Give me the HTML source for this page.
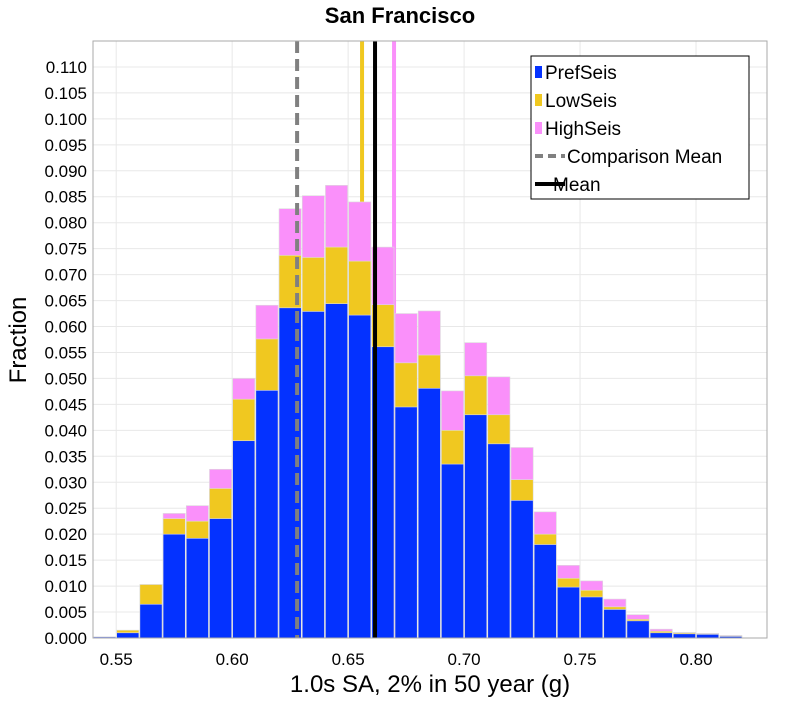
<!DOCTYPE html>
<html><head><meta charset="utf-8"><style>
body{margin:0;background:#fff;font-family:"Liberation Sans","DejaVu Sans",sans-serif}
</style></head><body>
<svg id="chart" width="800" height="700" xmlns="http://www.w3.org/2000/svg"></svg>
<script>
const binStarts=[0.54,0.55,0.56,0.57,0.58,0.59,0.60,0.61,0.62,0.63,0.64,0.65,0.66,0.67,0.68,0.69,0.70,0.71,0.72,0.73,0.74,0.75,0.76,0.77,0.78,0.79,0.80,0.81];
const prefSeis=[0.0002,0.001,0.0065,0.020,0.0192,0.023,0.038,0.0477,0.0636,0.0629,0.0644,0.0622,0.0561,0.0445,0.0481,0.0335,0.0430,0.0374,0.0265,0.0180,0.0098,0.0079,0.0055,0.0033,0.0010,0.0008,0.0007,0.0003];
const lowSeis=[0.0002,0.0015,0.0103,0.023,0.0225,0.0288,0.046,0.0576,0.0737,0.0733,0.0753,0.0726,0.0642,0.0530,0.0545,0.0400,0.0505,0.0430,0.0305,0.0200,0.0115,0.0092,0.0060,0.0036,0.0013,0.0010,0.0008,0.0004];
const highSeis=[0.0002,0.0015,0.0103,0.024,0.0255,0.0325,0.050,0.0641,0.0827,0.0852,0.0872,0.0840,0.0753,0.0625,0.0630,0.0476,0.0569,0.0503,0.0367,0.0243,0.0140,0.0110,0.0075,0.0045,0.0017,0.0011,0.0009,0.0005];
const binWidth=0.01;
const xTicks=[0.55,0.60,0.65,0.70,0.75,0.80];
const yTicks=[0,0.005,0.010,0.015,0.020,0.025,0.030,0.035,0.040,0.045,0.050,0.055,0.060,0.065,0.070,0.075,0.080,0.085,0.090,0.095,0.100,0.105,0.110];
const comparisonMean=0.628, mean=0.6616, lowMean=0.656, highMean=0.6698;

const L=93,R=767,T=41,B=638;
const xMin=0.54,xMax=0.8306,yMin=0,yMax=0.115;
const X=v=>L+(v-xMin)/(xMax-xMin)*(R-L);
const Y=v=>B-(v-yMin)/(yMax-yMin)*(B-T);
const svg=document.getElementById('chart');
const NS='http://www.w3.org/2000/svg';
function mk(tag,attrs,parent){const e=document.createElementNS(NS,tag);for(const k in attrs)e.setAttribute(k,attrs[k]);(parent||svg).appendChild(e);return e;}

let e=mk('rect',{x:L,y:T,width:R-L,height:B-T,fill:'#fff'});


yTicks.forEach(t=>{
 let g=mk('line',{x1:L,x2:R,y1:Y(t),y2:Y(t),stroke:'#e8e8e8','stroke-width':1});
 
 
 let tx=mk('text',{x:L-6,y:Y(t)+6,'text-anchor':'end','font-size':17,fill:'#000'});
 tx.textContent=t.toFixed(3);
 
 
});
xTicks.forEach(t=>{
 let g=mk('line',{x1:X(t),x2:X(t),y1:T,y2:B,stroke:'#e8e8e8','stroke-width':1});
 
 
 let tx=mk('text',{x:X(t),y:B+27,'text-anchor':'middle','font-size':17,fill:'#000'});
 tx.textContent=t.toFixed(2);
 
 
});
// behind-bar mean lines
let lm=mk('line',{x1:X(lowMean),x2:X(lowMean),y1:T,y2:B,stroke:'#f0c820','stroke-width':4});


let hm=mk('line',{x1:X(highMean),x2:X(highMean),y1:T,y2:B,stroke:'#fa90fa','stroke-width':4});



binStarts.forEach((b,i)=>{
 const x0=X(b),w=X(b+binWidth)-X(b);
 [[highSeis,'#fa90fa','bar-highseis'],[lowSeis,'#f0c820','bar-lowseis'],[prefSeis,'#0432ff','bar-prefseis']].forEach(([arr,c,n])=>{
  let r=mk('rect',{x:x0+0.5,y:Y(arr[i]),width:w-1,height:B-Y(arr[i]),fill:c,stroke:'#ddd','stroke-width':0.6});
  
  
 });
});
let cm=mk('line',{x1:X(comparisonMean),x2:X(comparisonMean),y1:T,y2:B,stroke:'#808080','stroke-width':4,'stroke-dasharray':'12,6'});


let mn=mk('line',{x1:X(mean),x2:X(mean),y1:T,y2:B,stroke:'#000','stroke-width':4});


let fr=mk('rect',{x:L,y:T,width:R-L,height:B-T,fill:'none',stroke:'#aaa','stroke-width':1});



let ti=mk('text',{x:400,y:23,'text-anchor':'middle','font-size':22,'font-weight':'bold'});
ti.textContent='San Francisco';


let xl=mk('text',{x:430,y:692,'text-anchor':'middle','font-size':24});
xl.textContent='1.0s SA, 2% in 50 year (g)';


let yl=mk('text',{x:0,y:0,'text-anchor':'middle','font-size':24,transform:'translate(26,340) rotate(-90)'});
yl.textContent='Fraction';



let lg=mk('g',{});


mk('rect',{x:531,y:56,width:218,height:143,fill:'#fff',stroke:'#000','stroke-width':1},lg);
const items=[['PrefSeis','#0432ff','box'],['LowSeis','#f0c820','box'],['HighSeis','#fa90fa','box'],['Comparison Mean','#808080','dash'],['Mean','#000','line']];
items.forEach((it,k)=>{
 const cy=72+k*28;
 let g=mk('g',{},lg);
 
 
 if(it[2]==='box') mk('rect',{x:535,y:cy-6,width:7,height:12,fill:it[1]},g);
 else mk('line',{x1:535,x2:565,y1:cy,y2:cy,stroke:it[1],'stroke-width':4,'stroke-dasharray':it[2]==='dash'?'8,5':'none'},g);
 let t=mk('text',{x:it[2]==='box'?545:(it[2]==='dash'?567:553),y:cy+7,'font-size':19},g);
 t.textContent=it[0];
});
</script>
</body></html>
